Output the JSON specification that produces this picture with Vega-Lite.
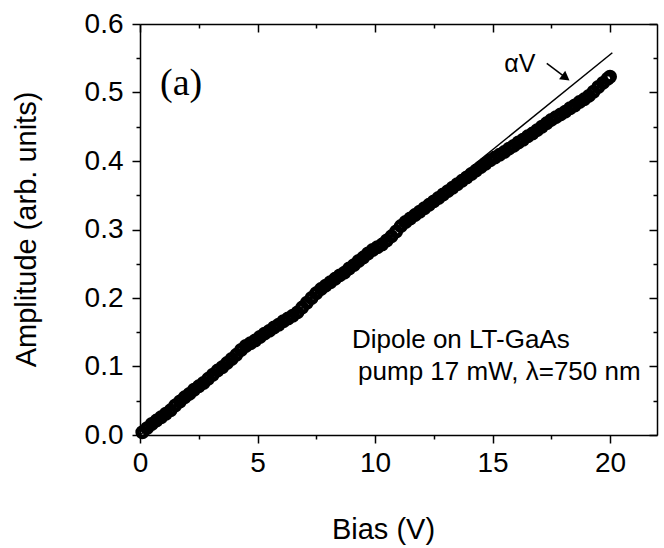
{
  "$schema": "https://vega.github.io/schema/vega-lite/v6.json",
  "width": 517,
  "height": 411,
  "autosize": {"type": "none"},
  "padding": {"left": 140, "top": 24, "right": 7, "bottom": 113},
  "background": "white",
  "datasets": {
    "meas": [
      {"bias": 0.1, "amp": 0.004}, {"bias": 0.3, "amp": 0.010}, {"bias": 0.5, "amp": 0.016}, {"bias": 0.7, "amp": 0.021},
      {"bias": 0.9, "amp": 0.026}, {"bias": 1.1, "amp": 0.031}, {"bias": 1.3, "amp": 0.036}, {"bias": 1.5, "amp": 0.043},
      {"bias": 1.7, "amp": 0.049}, {"bias": 1.9, "amp": 0.055}, {"bias": 2.1, "amp": 0.060}, {"bias": 2.3, "amp": 0.066},
      {"bias": 2.5, "amp": 0.071}, {"bias": 2.7, "amp": 0.076}, {"bias": 2.9, "amp": 0.082}, {"bias": 3.1, "amp": 0.088},
      {"bias": 3.3, "amp": 0.094}, {"bias": 3.5, "amp": 0.099}, {"bias": 3.7, "amp": 0.105}, {"bias": 3.9, "amp": 0.111},
      {"bias": 4.1, "amp": 0.117}, {"bias": 4.3, "amp": 0.124}, {"bias": 4.5, "amp": 0.130}, {"bias": 4.7, "amp": 0.134},
      {"bias": 4.9, "amp": 0.138}, {"bias": 5.1, "amp": 0.143}, {"bias": 5.3, "amp": 0.148}, {"bias": 5.5, "amp": 0.152},
      {"bias": 5.7, "amp": 0.157}, {"bias": 5.9, "amp": 0.161}, {"bias": 6.1, "amp": 0.166}, {"bias": 6.3, "amp": 0.170},
      {"bias": 6.5, "amp": 0.174}, {"bias": 6.7, "amp": 0.179}, {"bias": 6.9, "amp": 0.186}, {"bias": 7.1, "amp": 0.193},
      {"bias": 7.3, "amp": 0.200}, {"bias": 7.5, "amp": 0.207}, {"bias": 7.7, "amp": 0.213}, {"bias": 7.9, "amp": 0.218},
      {"bias": 8.1, "amp": 0.223}, {"bias": 8.3, "amp": 0.228}, {"bias": 8.5, "amp": 0.233}, {"bias": 8.7, "amp": 0.237},
      {"bias": 8.9, "amp": 0.243}, {"bias": 9.1, "amp": 0.248}, {"bias": 9.3, "amp": 0.254}, {"bias": 9.5, "amp": 0.259},
      {"bias": 9.7, "amp": 0.265}, {"bias": 9.9, "amp": 0.270}, {"bias": 10.1, "amp": 0.274}, {"bias": 10.3, "amp": 0.278},
      {"bias": 10.5, "amp": 0.284}, {"bias": 10.7, "amp": 0.290}, {"bias": 10.9, "amp": 0.297}, {"bias": 11.1, "amp": 0.305},
      {"bias": 11.3, "amp": 0.311}, {"bias": 11.5, "amp": 0.316}, {"bias": 11.7, "amp": 0.321}, {"bias": 11.9, "amp": 0.326},
      {"bias": 12.1, "amp": 0.331}, {"bias": 12.3, "amp": 0.336}, {"bias": 12.5, "amp": 0.341}, {"bias": 12.7, "amp": 0.346},
      {"bias": 12.9, "amp": 0.351}, {"bias": 13.1, "amp": 0.356}, {"bias": 13.3, "amp": 0.361}, {"bias": 13.5, "amp": 0.366},
      {"bias": 13.7, "amp": 0.371}, {"bias": 13.9, "amp": 0.376}, {"bias": 14.1, "amp": 0.381}, {"bias": 14.3, "amp": 0.386},
      {"bias": 14.5, "amp": 0.391}, {"bias": 14.7, "amp": 0.396}, {"bias": 14.9, "amp": 0.401}, {"bias": 15.1, "amp": 0.405},
      {"bias": 15.3, "amp": 0.409}, {"bias": 15.5, "amp": 0.413}, {"bias": 15.7, "amp": 0.418}, {"bias": 15.9, "amp": 0.422},
      {"bias": 16.1, "amp": 0.427}, {"bias": 16.3, "amp": 0.431}, {"bias": 16.5, "amp": 0.436}, {"bias": 16.7, "amp": 0.440},
      {"bias": 16.9, "amp": 0.445}, {"bias": 17.1, "amp": 0.450}, {"bias": 17.3, "amp": 0.455}, {"bias": 17.5, "amp": 0.460},
      {"bias": 17.7, "amp": 0.464}, {"bias": 17.9, "amp": 0.468}, {"bias": 18.1, "amp": 0.472}, {"bias": 18.3, "amp": 0.477},
      {"bias": 18.5, "amp": 0.481}, {"bias": 18.7, "amp": 0.486}, {"bias": 18.9, "amp": 0.490}, {"bias": 19.1, "amp": 0.495},
      {"bias": 19.3, "amp": 0.501}, {"bias": 19.5, "amp": 0.508}, {"bias": 19.7, "amp": 0.514}, {"bias": 19.9, "amp": 0.520},
      {"bias": 20.0, "amp": 0.523}
    ],
    "fit": [{"bias": 0, "amp": 0}, {"bias": 20.1, "amp": 0.558}],
    "arrow": [{"bias": 17.31, "amp": 0.5426, "bias2": 18.2, "amp2": 0.5195}],
    "head": [{"bias": 18.12, "amp": 0.5215}]
  },
  "resolve": {"axis": {"x": "independent", "y": "independent"}},
  "layer": [
    {
      "data": {"name": "meas"},
      "mark": {"type": "point", "shape": "circle", "filled": false, "stroke": "black", "strokeWidth": 4.5, "size": 90, "opacity": 1},
      "encoding": {
        "x": {"field": "bias", "type": "quantitative", "scale": {"domain": [0, 22], "nice": false},
          "axis": {"orient": "bottom", "values": [2.5, 7.5, 12.5, 17.5], "labels": false, "domain": false, "tickSize": 4, "tickWidth": 1.5, "title": null}},
        "y": {"field": "amp", "type": "quantitative", "scale": {"domain": [0, 0.6], "nice": false},
          "axis": {"orient": "left", "values": [0.05, 0.15, 0.25, 0.35, 0.45, 0.55], "labels": false, "domain": false, "tickSize": 4, "tickWidth": 1.5, "title": null}}
      }
    },
    {
      "data": {"name": "fit"},
      "mark": {"type": "line", "color": "black", "strokeWidth": 1.5},
      "encoding": {
        "x": {"field": "bias", "type": "quantitative", "scale": {"domain": [0, 22], "nice": false},
          "axis": {"orient": "bottom", "values": [0, 5, 10, 15, 20], "format": "d", "tickSize": 8, "tickWidth": 1.5, "domainWidth": 1.5, "labelPadding": 6, "labelFlush": false, "title": "Bias (V)", "titleX": 243, "titleY": 103, "titleBaseline": "alphabetic"}},
        "y": {"field": "amp", "type": "quantitative", "scale": {"domain": [0, 0.6], "nice": false},
          "axis": {"orient": "left", "values": [0, 0.1, 0.2, 0.3, 0.4, 0.5, 0.6], "format": ".1f", "tickSize": 8, "tickWidth": 1.5, "domainWidth": 1.5, "labelPadding": 9, "labelFlush": false, "title": "Amplitude (arb. units)", "titleX": -114, "titleY": 205, "titleAngle": -90, "titleBaseline": "middle"}}
      }
    },
    {
      "data": {"name": "arrow"},
      "mark": {"type": "rule", "color": "black", "strokeWidth": 1.5},
      "encoding": {
        "x": {"field": "bias", "type": "quantitative", "scale": {"domain": [0, 22], "nice": false},
          "axis": {"orient": "top", "values": [0, 5, 10, 15, 20], "labels": false, "tickSize": -8, "tickWidth": 1.5, "domainWidth": 1.5, "title": null}},
        "y": {"field": "amp", "type": "quantitative", "scale": {"domain": [0, 0.6], "nice": false},
          "axis": {"orient": "right", "values": [0, 0.1, 0.2, 0.3, 0.4, 0.5, 0.6], "labels": false, "tickSize": -8, "tickWidth": 1.5, "domainWidth": 1.5, "title": null}},
        "x2": {"field": "bias2"},
        "y2": {"field": "amp2"}
      }
    },
    {
      "data": {"name": "head"},
      "mark": {"type": "point", "shape": "triangle-right", "filled": true, "color": "black", "size": 110, "angle": 36, "opacity": 1},
      "encoding": {
        "x": {"field": "bias", "type": "quantitative", "scale": {"domain": [0, 22], "nice": false},
          "axis": {"orient": "top", "values": [2.5, 7.5, 12.5, 17.5], "labels": false, "domain": false, "tickSize": -4, "tickWidth": 1.5, "title": null}},
        "y": {"field": "amp", "type": "quantitative", "scale": {"domain": [0, 0.6], "nice": false},
          "axis": {"orient": "right", "values": [0.05, 0.15, 0.25, 0.35, 0.45, 0.55], "labels": false, "domain": false, "tickSize": -4, "tickWidth": 1.5, "title": null}}
      }
    },
    {
      "data": {"values": [{"bias": 0.85, "amp": 0.496, "label": "(a)"}]},
      "mark": {"type": "text", "align": "left", "baseline": "alphabetic", "font": "Liberation Serif", "fontSize": 38, "color": "black"},
      "encoding": {
        "x": {"field": "bias", "type": "quantitative", "axis": null},
        "y": {"field": "amp", "type": "quantitative", "axis": null},
        "text": {"field": "label"}
      }
    },
    {
      "data": {"values": [{"bias": 15.5, "amp": 0.530, "label": "αV"}]},
      "mark": {"type": "text", "align": "left", "baseline": "alphabetic", "font": "Liberation Sans", "fontSize": 25, "color": "black"},
      "encoding": {
        "x": {"field": "bias", "type": "quantitative", "axis": null},
        "y": {"field": "amp", "type": "quantitative", "axis": null},
        "text": {"field": "label"}
      }
    },
    {
      "data": {"values": [
        {"bias": 9.02, "amp": 0.127, "label": "Dipole on LT-GaAs"},
        {"bias": 9.28, "amp": 0.080, "label": "pump 17 mW, λ=750 nm"}
      ]},
      "mark": {"type": "text", "align": "left", "baseline": "alphabetic", "font": "Liberation Sans", "fontSize": 26, "color": "black"},
      "encoding": {
        "x": {"field": "bias", "type": "quantitative", "axis": null},
        "y": {"field": "amp", "type": "quantitative", "axis": null},
        "text": {"field": "label"}
      }
    }
  ],
  "config": {
    "view": {"stroke": null},
    "axis": {
      "grid": false,
      "domainColor": "black",
      "tickColor": "black",
      "labelColor": "black",
      "titleColor": "black",
      "labelFont": "Liberation Sans",
      "titleFont": "Liberation Sans",
      "labelFontSize": 28,
      "titleFontSize": 29,
      "titleFontWeight": "normal"
    }
  }
}
